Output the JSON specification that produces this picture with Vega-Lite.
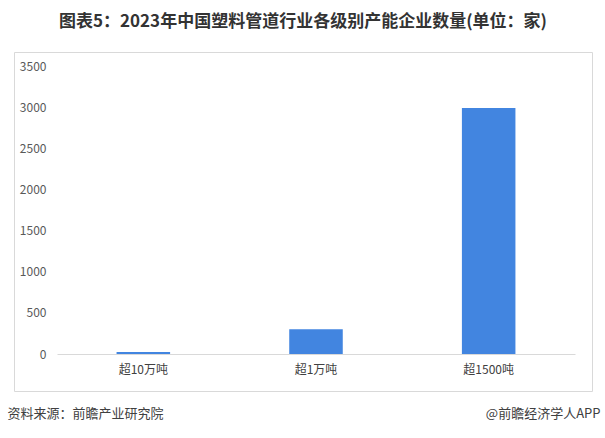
{
  "$schema": "https://vega.github.io/schema/vega-lite/v6.json",
  "autosize": "none",
  "width": 578,
  "height": 339,
  "padding": {"left": 14, "top": 52, "right": 13, "bottom": 47},
  "background": "#ffffff",
  "config": {
    "font": "Noto Sans CJK SC",
    "view": {"stroke": "#d9d9d9", "strokeWidth": 1}
  },
  "title": {
    "text": "图表5：2023年中国塑料管道行业各级别产能企业数量(单位：家)",
    "fontSize": 17,
    "fontWeight": "bold",
    "color": "#333333",
    "anchor": "middle",
    "frame": "group",
    "offset": 21
  },
  "data": {
    "values": [
      {"category": "超10万吨", "count": 24},
      {"category": "超1万吨", "count": 300},
      {"category": "超1500吨", "count": 2990}
    ]
  },
  "mark": {"type": "bar", "color": "#4285e0"},
  "encoding": {
    "x": {
      "field": "category",
      "type": "nominal",
      "sort": null,
      "scale": {"range": [43, 561], "paddingInner": 0.69, "paddingOuter": 0.345},
      "axis": {
        "orient": "bottom",
        "offset": -37,
        "labelAngle": 0,
        "labelFontSize": 12,
        "labelColor": "#404040",
        "labelPadding": 10,
        "ticks": false,
        "domainColor": "#d9d9d9",
        "title": "资料来源：前瞻产业研究院",
        "titleFontSize": 13,
        "titleFontWeight": "normal",
        "titleColor": "#404040",
        "titleAlign": "left",
        "titleBaseline": "middle",
        "titleX": -7,
        "titleY": 59
      }
    },
    "y": {
      "field": "count",
      "type": "quantitative",
      "scale": {"domain": [0, 3500], "range": [302, 14], "nice": false},
      "axis": {
        "orient": "left",
        "offset": -43,
        "values": [0, 500, 1000, 1500, 2000, 2500, 3000, 3500],
        "format": "d",
        "grid": false,
        "domain": false,
        "ticks": false,
        "labelFontSize": 12,
        "labelColor": "#595959",
        "labelPadding": 11,
        "title": "@前瞻经济学人APP",
        "titleAngle": 0,
        "titleFontSize": 13,
        "titleFontWeight": "normal",
        "titleColor": "#404040",
        "titleAlign": "right",
        "titleBaseline": "middle",
        "titleX": 543,
        "titleY": 361
      }
    }
  }
}
